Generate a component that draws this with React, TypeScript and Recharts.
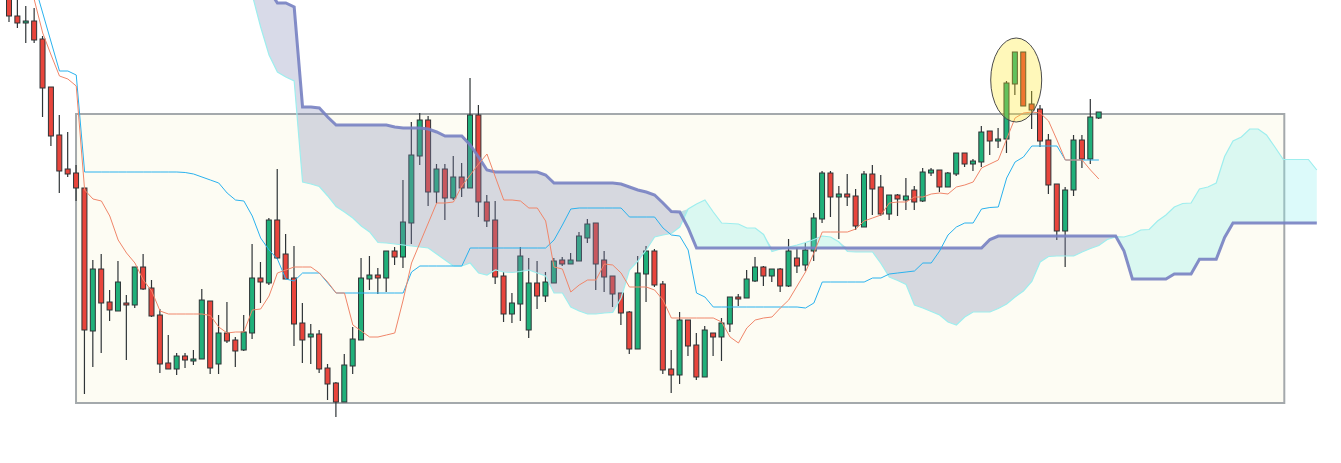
import React from "react";
import {
  ComposedChart,
  Bar,
  Line,
  Area,
  XAxis,
  YAxis,
  ReferenceArea,
  ReferenceDot,
} from "recharts";

const WIDTH = 1341;
const HEIGHT = 463;
const SHIFT = 26;
const UP = "#20b07a";
const DOWN = "#e8453c";
const EDGE = "#2f3437";

// candle prices (points)
const opens = [
  504, 484, 477, 479, 461, 413, 365, 331, 327, 312,
  169, 231, 198, 189, 197, 195, 233, 212, 185, 137,
  131, 144, 139, 141, 199, 136, 167, 160, 150, 167,
  222, 217, 280, 246, 222, 177, 163, 166, 132, 117,
  98, 134, 160, 221, 225, 222, 249, 243, 277, 344,
  380, 308, 331, 302, 323, 312, 385, 298, 280, 224,
  186, 196, 170, 217, 204, 217, 240, 236, 239, 262,
  277, 240, 224, 207, 188, 151, 226, 249, 216, 131,
  125, 180, 155, 123, 167, 163, 176, 203, 202, 219,
  233, 224, 231, 214, 242, 235, 249, 281, 327, 303,
  306, 304, 273, 326, 313, 286, 305, 300, 310, 299,
  327, 330, 313, 326, 347, 336, 338, 369, 359, 361,
  416, 448, 396, 391, 360, 316, 269, 310, 360, 341,
  382,
];
const highs = [
  510, 502, 494, 492, 464, 413, 385, 368, 335, 312,
  240, 246, 210, 239, 205, 233, 246, 220, 191, 165,
  147, 147, 150, 211, 199, 185, 198, 163, 185, 256,
  238, 282, 331, 266, 254, 197, 176, 170, 136, 118,
  146, 173, 242, 244, 232, 249, 253, 320, 378, 387,
  384, 336, 336, 344, 337, 422, 395, 305, 299, 228,
  207, 253, 242, 239, 228, 242, 243, 247, 268, 281,
  277, 249, 224, 207, 189, 244, 254, 251, 219, 150,
  188, 180, 167, 174, 167, 182, 203, 206, 230, 243,
  234, 231, 232, 261, 252, 257, 287, 329, 329, 314,
  326, 311, 329, 335, 325, 305, 306, 322, 314, 332,
  332, 330, 328, 347, 347, 341, 374, 369, 372, 419,
  448, 448, 409, 395, 366, 316, 313, 365, 365, 401,
  388,
];
const lows = [
  478, 472, 457, 457, 383, 354, 307, 323, 299, 106,
  133, 147, 179, 189, 140, 192, 210, 183, 127, 131,
  125, 132, 135, 141, 126, 126, 157, 133, 149, 161,
  197, 215, 241, 221, 154, 137, 136, 127, 100, 83,
  98, 126, 160, 210, 206, 208, 235, 232, 256, 335,
  294, 297, 280, 300, 303, 312, 283, 273, 216, 178,
  177, 179, 162, 191, 198, 217, 234, 236, 239, 257,
  210, 208, 193, 175, 146, 151, 198, 213, 126, 107,
  116, 144, 120, 123, 144, 139, 168, 194, 202, 218,
  214, 218, 208, 213, 227, 229, 239, 277, 283, 261,
  294, 270, 273, 285, 284, 280, 284, 290, 290, 298,
  324, 308, 313, 324, 333, 329, 333, 345, 352, 347,
  405, 394, 371, 353, 306, 260, 233, 304, 332, 336,
  381,
];
const closes = [
  484, 477, 479, 460, 412, 364, 329, 326, 312, 170,
  231, 197, 190, 218, 195, 233, 211, 184, 136, 131,
  144, 140, 141, 200, 132, 167, 159, 149, 168, 222,
  218, 280, 242, 221, 176, 160, 166, 131, 116, 98,
  135, 161, 222, 225, 222, 249, 243, 278, 345, 380,
  308, 331, 302, 323, 312, 385, 298, 279, 223, 186,
  197, 244, 217, 204, 218, 239, 236, 240, 264, 276,
  236, 223, 206, 187, 151, 227, 249, 215, 130, 125,
  180, 154, 123, 170, 163, 177, 203, 201, 221, 233,
  224, 231, 214, 249, 234, 250, 282, 327, 303, 306,
  303, 274, 326, 311, 286, 305, 301, 304, 298, 328,
  330, 313, 327, 347, 336, 339, 368, 359, 361, 417,
  448, 394, 390, 359, 315, 269, 310, 360, 341, 383,
  388,
];

// conversion line (tenkan) and base line (kijun)
const tenkan = [
  590, 560, 530, 500, 467, 445, 424, 421, 414, 310,
  301, 299, 284, 260, 247, 237, 220, 209, 189, 186,
  186, 186, 186, 186, 184.5, 173, 167, 168, 168, 190,
  191, 204, 227, 230, 233, 233, 233, 227, 218, 207,
  207, 175, 169, 163, 163, 165, 167, 200, 237, 257,
  277, 297, 297, 298, 314, 325, 336, 346, 323, 300,
  300, 299, 292, 292, 279, 233, 231, 208, 215, 220,
  220, 236, 235, 227, 213, 213, 213, 210, 200, 182,
  182, 182, 182, 182, 182, 178, 163, 157, 172, 180,
  182, 183, 192, 200, 214, 228, 247, 268, 268, 268,
  268, 271, 279, 282, 285, 297, 298, 298, 303, 303,
  306, 307, 306, 313, 315, 318, 332, 336, 340, 361,
  382, 387, 388, 387, 379, 360, 340, 340, 340, 330,
  321,
];
const kijun = [
  603, 574, 545, 516, 487, 458, 429, 429, 425, 328,
  328, 328, 328, 328, 328, 328, 328, 328, 328, 328,
  328, 327.5, 326, 323, 320, 317, 307, 300, 299, 284,
  262, 250, 241, 221, 219, 227, 227, 227, 217, 207,
  207, 207, 207, 207, 207, 207, 207, 207, 228, 234,
  234, 234, 234, 234, 234, 252, 252, 252, 252, 252,
  252, 252, 252, 252, 252, 260, 275, 291, 292, 292,
  292, 292, 292, 292, 283, 283, 283, 283, 272, 265,
  264, 250, 207, 203, 193, 193, 193, 193, 193, 193,
  193, 193, 193, 193, 193, 192, 197, 218, 218, 218,
  218, 218, 218, 222, 222, 226, 227, 228, 229, 237,
  237, 249, 265, 273, 277, 277, 291, 292.5, 293, 322,
  338, 343, 354, 354, 354, 354, 340, 340, 340, 340,
  340,
];

// leading spans, already plotted 26 periods ahead (first value sits at index 26)
const spanA = [
  580, 555, 530, 505, 473, 445, 428, 423, 419, 318,
  316, 313.5, 304, 293.5, 288, 282, 274, 268, 257.5, 257,
  256, 255, 254, 253, 252, 246, 240, 234, 234, 237,
  227, 225, 230, 228, 227.5, 228.5, 230, 227, 224, 207,
  207, 193, 189, 186, 186, 187, 187.6, 202, 230, 239,
  250, 263, 265, 266.5, 273, 291, 296, 300, 288, 277,
  276.5, 276, 272, 272, 265.5, 248.5, 251, 253, 255, 257.5,
  260.5, 264, 263, 258, 248.5, 248, 248, 248, 236.5, 223,
  219.5, 215.5, 195, 192, 188.5, 185, 178, 175, 183, 188,
  188, 188, 191.5, 196, 203, 209, 218.5, 238, 243.5, 244,
  244, 244, 248, 251.5, 254.5, 260.5, 263, 263, 265.5, 270,
  270.5, 279, 285, 293, 296.5, 297, 311, 313, 317, 343.5,
  359, 363, 371, 371, 365, 353, 340.5, 340.5, 340.5, 340.5,
  330,
];
const spanB = [
  560, 550, 540, 530, 520, 510, 497, 497, 493, 393,
  393, 392, 383, 375, 375, 375, 375, 375, 375, 375,
  373, 372, 372, 372, 371, 368, 364, 364, 364, 355,
  343, 330, 328, 328, 328, 328, 328, 328, 325, 317,
  317, 317, 317, 317, 317, 317, 317, 316, 313, 310,
  308, 305, 297, 288.5, 288, 272, 252, 252, 252, 252,
  252, 252, 252, 252, 252, 252, 252, 252, 252, 252,
  252, 252, 252, 252, 252, 252, 252, 252, 252, 252,
  252, 252, 252, 252, 252, 252, 252, 252, 252, 252,
  252, 260.5, 264, 264, 264, 264, 264, 264, 264, 264,
  264, 264, 264, 264, 264, 264, 264, 249, 221, 221,
  221, 221, 221, 226, 226, 226, 240.7, 240.7, 240.7, 262.5,
  277, 277, 277, 277, 277, 277, 277, 277, 277, 277,
  277,
];

const SLOTS = closes.length + SHIFT;

const rows = Array.from({ length: SLOTS }, (_, i) => {
  const has = i < closes.length;
  const a = i >= SHIFT ? spanA[i - SHIFT] : null;
  const b = i >= SHIFT ? spanB[i - SHIFT] : null;
  const both = a != null && b != null;
  return {
    i,
    range: has ? [lows[i], highs[i]] : null,
    o: has ? opens[i] : null,
    h: has ? highs[i] : null,
    l: has ? lows[i] : null,
    c: has ? closes[i] : null,
    tenkan: has ? tenkan[i] : null,
    kijun: has ? kijun[i] : null,
    a,
    b,
    bear: both ? [a, Math.max(a, b)] : null,
    bull: both ? [b, Math.max(a, b)] : null,
  };
});

function Candle(props: any) {
  const { x, y, width, height, payload } = props;
  if (!payload || payload.o == null) return null;
  const { o, h, l, c } = payload;
  const top = Math.min(y, y + height);
  const span = Math.abs(height);
  const ppu = h > l ? span / (h - l) : 0;
  const yO = top + (h - o) * ppu;
  const yC = top + (h - c) * ppu;
  const mid = x + width / 2;
  const bodyTop = Math.min(yO, yC);
  const bodyH = Math.max(Math.abs(yC - yO), 1.5);
  return (
    <g>
      <line x1={mid} x2={mid} y1={top} y2={top + span} stroke={EDGE} strokeWidth={1.2} />
      <rect
        x={x + 0.5}
        y={bodyTop}
        width={width - 1}
        height={bodyH}
        fill={c >= o ? UP : DOWN}
        stroke={EDGE}
        strokeWidth={1}
      />
    </g>
  );
}

function Ellipse(props: any) {
  return (
    <ellipse
      cx={props.cx}
      cy={props.cy}
      rx={25.5}
      ry={42}
      fill="#ffe81a"
      fillOpacity={0.3}
      stroke="#4b4b4b"
      strokeWidth={1}
    />
  );
}

export default function App() {
  return (
    <div style={{ position: "absolute", left: 0, top: 0, width: WIDTH, height: HEIGHT, background: "#fff" }}>
      <ComposedChart
        width={WIDTH}
        height={HEIGHT}
        data={rows}
        margin={{ top: 0, right: 20, bottom: 0, left: 5 }}
        barCategoryGap={0}
      >
        <XAxis dataKey="i" type="category" hide />
        <XAxis xAxisId="n" type="number" domain={[0, SLOTS - 1]} allowDataOverflow hide />
        <YAxis type="number" domain={[37, 500]} allowDataOverflow hide />

        <ReferenceArea
          xAxisId="n"
          x1={8.42}
          x2={151.65}
          y1={97}
          y2={386}
          fill="#fdfcf3"
          fillOpacity={1}
          stroke="#a4a9ac"
          strokeWidth={2}
          ifOverflow="visible"
          zIndex={-60}
        />

        <Bar
          dataKey="range"
          barSize={6}
          shape={<Candle />}
          isAnimationActive={false}
          zIndex={300}
        />

        <Area
          dataKey="bear"
          type="linear"
          stroke="none"
          fill="#7d84b2"
          fillOpacity={0.3}
          dot={false}
          activeDot={false}
          isAnimationActive={false}
          zIndex={350}
        />
        <Area
          dataKey="bull"
          type="linear"
          stroke="none"
          fill="#8aeeee"
          fillOpacity={0.3}
          dot={false}
          activeDot={false}
          isAnimationActive={false}
          zIndex={350}
        />

        <Line
          dataKey="a"
          type="linear"
          stroke="#9eeeee"
          strokeWidth={1.2}
          dot={false}
          activeDot={false}
          isAnimationActive={false}
          zIndex={400}
        />
        <Line
          dataKey="b"
          type="linear"
          stroke="#7781c2"
          strokeOpacity={0.9}
          strokeWidth={3}
          dot={false}
          activeDot={false}
          isAnimationActive={false}
          zIndex={400}
        />
        <Line
          dataKey="kijun"
          type="linear"
          stroke="#2ab2ee"
          strokeWidth={1}
          dot={false}
          activeDot={false}
          isAnimationActive={false}
          zIndex={410}
        />
        <Line
          dataKey="tenkan"
          type="linear"
          stroke="#f0866a"
          strokeWidth={1}
          dot={false}
          activeDot={false}
          isAnimationActive={false}
          zIndex={410}
        />

        <ReferenceDot
          xAxisId="n"
          x={119.87}
          y={420}
          shape={<Ellipse />}
          ifOverflow="visible"
          zIndex={1500}
        />
      </ComposedChart>
    </div>
  );
}
